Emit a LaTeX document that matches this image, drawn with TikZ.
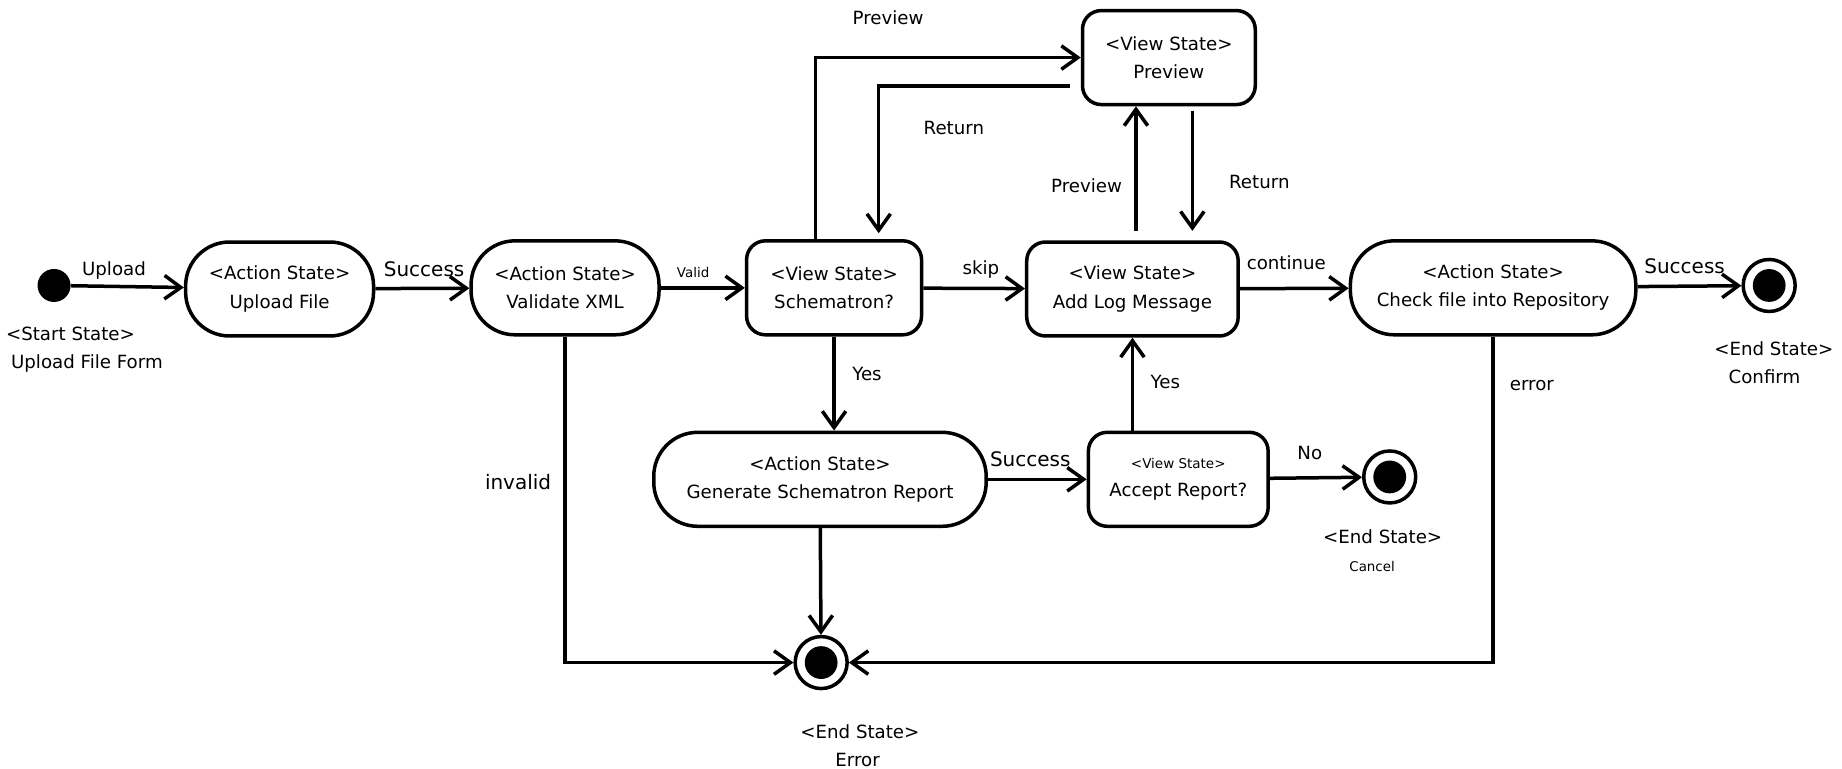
\documentclass[tikz,border=0pt]{standalone}
\usepackage{fontspec}
\setmainfont{DejaVu Sans}
\usepackage{tikz}
\usetikzlibrary{arrows.meta}
\usetikzlibrary{calc}
\usetikzlibrary{positioning}

\begin{document}
\begin{tikzpicture}[x=0.5875pt, y=-0.5875pt,
 every text node part/.style={align=center},
 font=\fontsize{9.1}{14.1}\selectfont,
action/.style={rectangle, draw, line width=1.75pt, inner sep=0pt, minimum height=47pt, rounded corners=22pt},
view/.style={rectangle, draw, line width=1.75pt, inner sep=0pt, minimum height=47pt, rounded corners=9.4pt},
startdot/.style={circle, fill, inner sep=0pt, minimum size=16.5pt},
enddot/.style={circle, draw, line width=1.75pt, inner sep=0pt, minimum size=26pt,
  path picture={\fill (path picture bounding box.center) circle (8.2pt);}},
arrow/.style={-{Straight Barb[length=8.2pt, width=11.75pt, line width=1.75pt]}, line width=1.75pt},
lbl/.style={inner sep=0pt},
biglbl/.style={inner sep=0pt, font=\fontsize{10}{12}\selectfont},
smalllbl/.style={inner sep=0pt, font=\fontsize{6.7}{8}\selectfont}]

	\useasboundingbox (0,0) rectangle (1568,654);

	% states
	\node[startdot] (start) at (46,243) {};
	\node[action, minimum width=94pt] (upload) at (238,246) {<Action State>\\ Upload File};
	\node[action, minimum width=94pt] (validate) at (481,245) {<Action State>\\ Validate XML};
	\node[view, minimum width=87.5pt] (schem) at (710,245) {<View State>\\ Schematron?};
	\node[view, minimum width=105.75pt] (addlog) at (964,246) {<View State>\\ Add Log Message};
	\node[action, minimum width=142.75pt] (check) at (1271,245) {<Action State>\\ Check file into Repository};
	\node[view, minimum width=86.4pt] (preview) at (995,49) {<View State>\\ Preview};
	\node[action, minimum width=166.25pt] (gen) at (698,408) {<Action State>\\ Generate Schematron Report};
	\node[view, minimum width=89.9pt] (accept) at (1003,408) {{\fontsize{6.75}{8}\selectfont <View State>}\\ Accept Report?};
	\node[enddot] (confirm) at (1506,243) {};
	\node[enddot] (cancel) at (1183,406) {};
	\node[enddot] (error) at (699,564) {};

	% state names
	\node[lbl] (startname) at (60,284) {<Start State>};
	\node[lbl] (startform) at (74,309) {Upload File Form};
	\node[lbl] (confirmname) at (1510,297) {<End State>};
	\node[lbl] (confirmtext) at (1502,321) {Confirm};
	\node[lbl] (cancelname) at (1177,457) {<End State>};
	\node[smalllbl] (canceltext) at (1168,482) {Cancel};
	\node[lbl] (errorname) at (732,623) {<End State>};
	\node[lbl] (errortext) at (730,647) {Error};

	% helper points for the preview loops
	\coordinate (toprevA) at ($(schem.north)+(-16,0)$);
	\coordinate (backA) at ($(preview.west)+(-9,24)$);
	\coordinate (backAend) at ($(schem.north)+(38,-5)$);
	\coordinate (toprevB) at ($(addlog.north)+(3,-8)$);
	\coordinate (backB) at ($(preview.south)+(20,4)$);
	\coordinate (backBend) at ($(addlog.north)+(51,-8)$);

	% transitions
	\draw[arrow] (start) -- (upload);
	\draw[arrow] (upload) -- (validate);
	\draw[arrow] (validate) -- (schem);
	\draw[arrow] (schem) -- (addlog);
	\draw[arrow] (addlog) -- (check);
	\draw[arrow] (check) -- (confirm);
	\draw[arrow] (schem.south) -- (schem.south |- gen.north);
	\draw[arrow] (gen) -- (accept);
	\draw[arrow] (accept) -- (cancel);
	\draw[arrow] (addlog.south |- accept.north) -- (addlog.south);
	\draw[arrow] (gen) -- (error);
	\draw[arrow] (validate.south) |- (error.west);
	\draw[arrow] (check.south) |- (error.east);
	\draw[arrow] (toprevA) |- (preview.west);
	\draw[arrow] (backA) -| (backAend);
	\draw[arrow] (toprevB) -- (toprevB |- preview.south);
	\draw[arrow] (backB) -- (backBend);

	% transition labels
	\node[lbl] (lupload) at (97,230) {Upload};
	\node[biglbl] (lsuccess1) at (361,229) {Success};
	\node[smalllbl] (lvalid) at (590,232) {Valid};
	\node[lbl] (lskip) at (835,229) {skip};
	\node[lbl] (lcontinue) at (1095,224) {continue};
	\node[biglbl] (lsuccess2) at (1434,227) {Success};
	\node[lbl] (lpreview1) at (756,15) {Preview};
	\node[lbl] (lreturn1) at (812,109) {Return};
	\node[lbl] (lpreview2) at (925,158) {Preview};
	\node[lbl] (lreturn2) at (1072,155) {Return};
	\node[lbl] (lyes1) at (738,318) {Yes};
	\node[biglbl] (lsuccess3) at (877,391) {Success};
	\node[lbl] (lyes2) at (992,325) {Yes};
	\node[lbl] (lno) at (1115,386) {No};
	\node[biglbl] (linvalid) at (441,410) {invalid};
	\node[lbl] (lerror) at (1304,328) {error};
\end{tikzpicture}
\end{document}
